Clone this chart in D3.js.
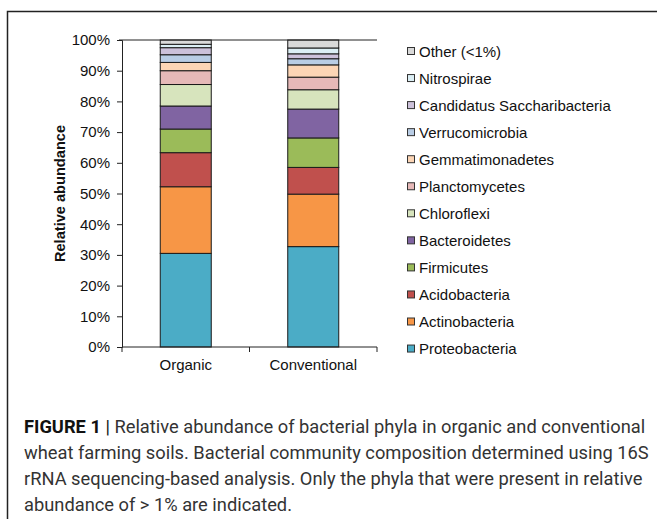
<!DOCTYPE html>
<html>
<head>
<meta charset="utf-8">
<script src="https://cdn.jsdelivr.net/npm/d3@7"></script>
<style>
  body { margin: 0; background: #fff; }
  svg { display: block; }
</style>
</head>
<body>
<div id="chart"></div>
<script>
// Samples on the x axis
const groups = ["Organic", "Conventional"];

// Phyla, bottom of the stack first
const phyla = [
  "Proteobacteria",
  "Actinobacteria",
  "Acidobacteria",
  "Firmicutes",
  "Bacteroidetes",
  "Chloroflexi",
  "Planctomycetes",
  "Gemmatimonadetes",
  "Verrucomicrobia",
  "Candidatus Saccharibacteria",
  "Nitrospirae",
  "Other (<1%)"
];

// Relative abundance (%) per phylum, same order as phyla
const organicValues      = [30.5, 21.7, 11.1, 7.7, 7.5, 7.0, 4.5, 2.7, 2.5, 2.3, 1.1, 1.4];
const conventionalValues = [32.7, 17.1, 8.7, 9.6, 9.4, 6.3, 4.1, 4.0, 2.0, 1.6, 1.9, 2.6];

const phylumColors = [
  "#4BACC6", "#F79646", "#C0504D", "#9BBB59", "#8064A2", "#D7E4BD",
  "#E6B9B8", "#FCD5B5", "#B9CDE5", "#CCC1DA", "#DBEEF4", "#D9D9D9"
];

const yTicks = [0, 10, 20, 30, 40, 50, 60, 70, 80, 90, 100];

const captionLines = [
  "Relative abundance of bacterial phyla in organic and conventional",
  "wheat farming soils. Bacterial community composition determined using 16S",
  "rRNA sequencing-based analysis. Only the phyla that were present in relative",
  "abundance of > 1% are indicated."
];

const width = 657, height = 519;
const plot = { left: 122, right: 377, top: 40, bottom: 347 };
const chartFont = "'Liberation Sans', Arial, sans-serif";

const svg = d3.select("#chart").append("svg")
  .attr("width", width)
  .attr("height", height);

// figure frame (runs off the right and bottom edges)
svg.append("path")
  .attr("d", `M${width + 5},11.5 H7.5 V${height + 5}`)
  .attr("fill", "none")
  .attr("stroke", "#222")
  .attr("stroke-width", 1.5);

const x = d3.scaleBand()
  .domain(groups)
  .range([plot.left, plot.right])
  .paddingInner(0.6)
  .paddingOuter(0.3);

const y = d3.scaleLinear()
  .domain([0, 100])
  .range([plot.bottom, plot.top]);

const color = d3.scaleOrdinal().domain(phyla).range(phylumColors);

// table for the stack
const table = groups.map((g, gi) => {
  const vals = gi === 0 ? organicValues : conventionalValues;
  const row = { group: g };
  phyla.forEach((p, i) => row[p] = vals[i]);
  return row;
});
const series = d3.stack().keys(phyla)(table);

svg.append("g")
  .selectAll("g")
  .data(series)
  .join("g")
  .attr("fill", d => color(d.key))
  .selectAll("rect")
  .data(d => d)
  .join("rect")
  .attr("x", d => x(d.data.group))
  .attr("width", x.bandwidth())
  .attr("y", d => y(Math.min(d[1], 100)))
  .attr("height", d => y(d[0]) - y(Math.min(d[1], 100)))
  .attr("stroke", "#1a1a1a")
  .attr("stroke-width", 1);

// y axis
const yAxis = svg.append("g")
  .attr("transform", `translate(${plot.left},0)`)
  .call(d3.axisLeft(y).tickValues(yTicks).tickSize(5).tickPadding(7)
    .tickFormat(d => d + "%"));
yAxis.select(".domain").attr("stroke", "#222");
yAxis.selectAll("line").attr("stroke", "#222");
yAxis.selectAll("text")
  .attr("font-family", chartFont)
  .attr("font-size", 15)
  .attr("fill", "#111");

// x axis: ticks between the categories
const xAxis = svg.append("g")
  .attr("transform", `translate(0,${plot.bottom})`);
xAxis.append("line")
  .attr("x1", plot.left).attr("x2", plot.right)
  .attr("stroke", "#222");
const boundaries = [plot.left, (x("Organic") + x.bandwidth() + x("Conventional")) / 2, plot.right];
xAxis.selectAll("line.tick")
  .data(boundaries)
  .join("line")
  .attr("class", "tick")
  .attr("x1", d => d).attr("x2", d => d)
  .attr("y1", 0).attr("y2", 5)
  .attr("stroke", "#222");
xAxis.selectAll("text")
  .data(groups)
  .join("text")
  .attr("x", d => x(d) + x.bandwidth() / 2)
  .attr("y", 23)
  .attr("text-anchor", "middle")
  .attr("font-family", chartFont)
  .attr("font-size", 15)
  .attr("fill", "#111")
  .text(d => d);

// top border of the plot area
svg.append("line")
  .attr("x1", plot.left - 3).attr("x2", plot.right)
  .attr("y1", plot.top).attr("y2", plot.top)
  .attr("stroke", "#222");

// y title
svg.append("text")
  .attr("transform", `translate(65,${(plot.top + plot.bottom) / 2}) rotate(-90)`)
  .attr("text-anchor", "middle")
  .attr("font-family", chartFont)
  .attr("font-size", 14.6)
  .attr("font-weight", "bold")
  .attr("fill", "#111")
  .text("Relative abundance");

// legend, top entry is the last phylum
const legend = svg.append("g")
  .attr("transform", "translate(407,51)");
const legendRows = phyla.slice().reverse();
const item = legend.selectAll("g")
  .data(legendRows)
  .join("g")
  .attr("transform", (d, i) => `translate(0,${i * 27.05})`);
item.append("rect")
  .attr("x", 0.5).attr("y", -3.5)
  .attr("width", 7).attr("height", 7)
  .attr("fill", d => color(d))
  .attr("stroke", "#333")
  .attr("stroke-width", 1);
item.append("text")
  .attr("x", 12)
  .attr("y", 5.5)
  .attr("font-family", chartFont)
  .attr("font-size", 15)
  .attr("fill", "#111")
  .text(d => d);

// caption
const caption = svg.append("g")
  .attr("font-family", "Roboto, 'Liberation Sans', sans-serif")
  .attr("font-size", 18.3)
  .attr("fill", "#333");
captionLines.forEach((line, i) => {
  const t = caption.append("text")
    .attr("x", 24)
    .attr("y", 433 + i * 26);
  if (i === 0) {
    t.append("tspan").attr("font-weight", "bold").attr("fill", "#111").text("FIGURE 1");
    t.append("tspan").attr("fill", "#111").text(" | ");
  }
  t.append("tspan").text(line);
});
</script>
</body>
</html>
